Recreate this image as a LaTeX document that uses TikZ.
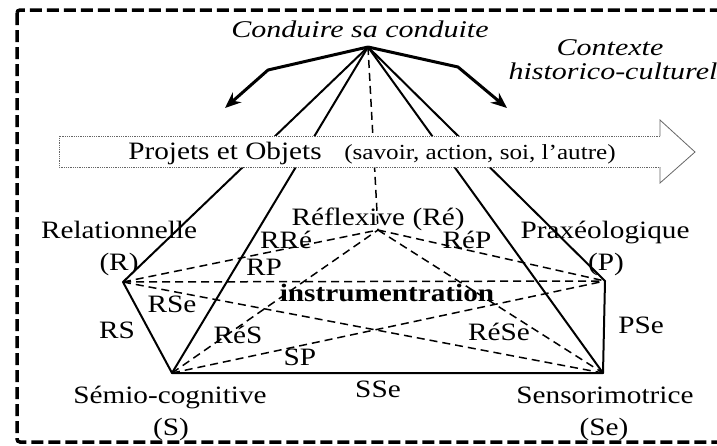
\documentclass[tikz,border=0pt]{standalone}
\usepackage{fontspec}
\setmainfont{Liberation Serif}
\usetikzlibrary{arrows.meta}
\newcommand{\wide}[1]{\scalebox{1.17}[1]{#1}}
\newcommand{\wideit}[1]{\scalebox{1.25}[1]{#1}}
\begin{document}
\begin{tikzpicture}[x=1pt,y=-1pt,
  lbl/.style={inner sep=0pt, anchor=base, font=\fontsize{25}{28}\selectfont},
  lblsmall/.style={inner sep=0pt, anchor=base, font=\fontsize{21.5}{24}\selectfont},
  lblbold/.style={inner sep=0pt, anchor=base, font=\bfseries\fontsize{25}{28}\selectfont},
  itl/.style={inner sep=0pt, anchor=base, font=\itshape\fontsize{24}{27}\selectfont},
  edgesolid/.style={line width=2pt, line join=round, line cap=round},
  edgedash/.style={line width=1.5pt, dash pattern=on 8pt off 5pt},
  bigarrow/.style={line width=3pt, line join=round, -{Stealth[length=16pt,width=13pt]}}]
\useasboundingbox (0,0) rectangle (717,445);
\begin{scope}
  \clip (0,0) rectangle (717,445);
  \draw[line width=3.5pt, dash pattern=on 12pt off 5pt, rounded corners=3pt] (17,10) rectangle (740,442);
\end{scope}
% vertices
\coordinate (A) at (368,47);
\coordinate (R) at (123,282);
\coordinate (S) at (172,373);
\coordinate (Se) at (603,373);
\coordinate (P) at (605,281);
\coordinate (Re) at (378,230);
\coordinate (L1) at (268,70);
\coordinate (L2) at (225,108);
\coordinate (R1) at (458,67);
\coordinate (R2) at (507,108);
% dashed connectors
\draw[edgedash] (A) -- (Re);
\draw[edgedash] (R) -- (Re);
\draw[edgedash] (R) -- (P);
\draw[edgedash] (R) -- (Se);
\draw[edgedash] (S) -- (Re);
\draw[edgedash] (S) -- (P);
\draw[edgedash] (Re) -- (P);
\draw[edgedash] (Re) -- (Se);
% solid connectors
\draw[edgesolid] (A) -- (R) -- (S) -- (Se) -- (P) -- cycle;
\draw[edgesolid] (A) -- (S);
\draw[edgesolid] (A) -- (Se);
% curved arrows
\draw[bigarrow] (A) -- (L1) -- (L2);
\draw[bigarrow] (A) -- (R1) -- (R2);
% big hollow arrow
\fill[white] (59,136) -- (660,136) -- (660,120) -- (695,152) -- (660,183) -- (660,167) -- (59,167) -- cycle;
\draw[black!60, densely dotted, line width=0.8pt] (660,136) -- (59,136) -- (59,167) -- (660,167);
\draw[black!60, line width=0.8pt, line join=miter] (660,136) -- (660,120) -- (695,152) -- (660,183) -- (660,167);
\node[lbl] (proj) at (225,159) {\wide{Projets et Objets}};
\node[lblsmall] (projb) at (480,159) {\wide{(savoir, action, soi, l’autre)}};
% texts
\node[itl] (cond) at (360,37) {\wideit{Conduire sa conduite}};
\node[itl] (ctx1) at (610,55) {\wideit{Contexte}};
\node[itl] (ctx2) at (613,79) {\wideit{historico-culturel}};
\node[lbl] (tR1) at (119,238) {\wide{Relationnelle}};
\node[lbl] (tR2) at (119,270) {\wide{(R)}};
\node[lbl] (tRe) at (378,225) {\wide{Réflexive (Ré)}};
\node[lbl] (tP1) at (605,238) {\wide{Praxéologique}};
\node[lbl] (tP2) at (606,270) {\wide{(P)}};
\node[lbl] (tS1) at (170,403) {\wide{Sémio-cognitive}};
\node[lbl] (tS2) at (171,435) {\wide{(S)}};
\node[lbl] (tSe1) at (605,403) {\wide{Sensorimotrice}};
\node[lbl] (tSe2) at (604,435) {\wide{(Se)}};
\node[lbl] (eSSe) at (378,397) {\wide{SSe}};
\node[lbl] (ePSe) at (641,333) {\wide{PSe}};
\node[lbl] (eRS) at (117,338) {\wide{RS}};
\node[lbl] (eRSe) at (172,312) {\wide{RSe}};
\node[lbl] (eRRe) at (286,248) {\wide{RRé}};
\node[lbl] (eRP) at (264,275) {\wide{RP}};
\node[lbl] (eReS) at (238,343) {\wide{RéS}};
\node[lbl] (eSP) at (300,365) {\wide{SP}};
\node[lbl] (eReP) at (467,248) {\wide{RéP}};
\node[lbl] (eReSe) at (499,340) {\wide{RéSe}};
\node[lblbold] (instr) at (387,301) {\wide{instrumentration}};
\end{tikzpicture}
\end{document}
